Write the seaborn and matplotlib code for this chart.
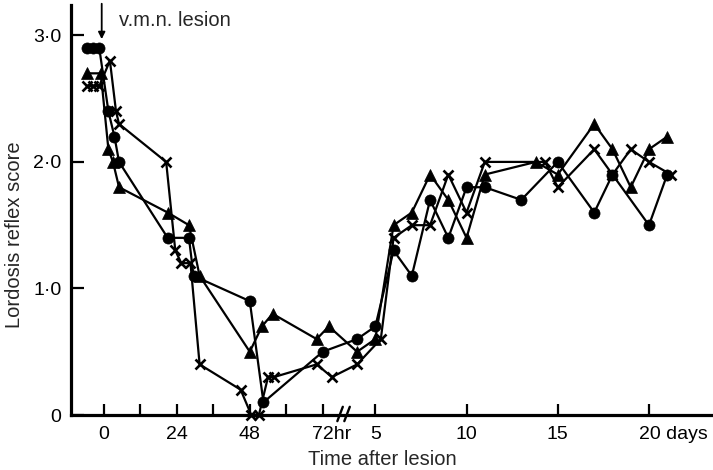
import numpy as np
import pandas as pd
import matplotlib
matplotlib.use("Agg")
import matplotlib.pyplot as plt
import matplotlib.transforms as mtrans
import seaborn as sns

# ---------------- data ----------------
# time in hours (first segment) and in days (second segment)
circle_hours_t = [-5.5, -3.5, -1.5, 1.5, 3.5, 5, 21, 28, 29.5, 48, 52.5, 72]
circle_hours_v = [2.9, 2.9, 2.9, 2.4, 2.2, 2.0, 1.4, 1.4, 1.1, 0.9, 0.1, 0.5]
circle_days_t = [4, 5, 6, 7, 8, 9, 10, 11, 13, 15, 17, 18, 20, 21]
circle_days_v = [0.6, 0.7, 1.3, 1.1, 1.7, 1.4, 1.8, 1.8, 1.7, 2.0, 1.6, 1.9, 1.5, 1.9]

triangle_hours_t = [-5.5, -1, 1.5, 3, 5, 21, 28, 31.5, 48, 52, 55.5, 70, 74]
triangle_hours_v = [2.7, 2.7, 2.1, 2.0, 1.8, 1.6, 1.5, 1.1, 0.5, 0.7, 0.8, 0.6, 0.7]
triangle_days_t = [4, 5, 6, 7, 8, 9, 10, 11, 13.8, 15, 17, 18, 19, 20, 21]
triangle_days_v = [0.5, 0.6, 1.5, 1.6, 1.9, 1.7, 1.4, 1.9, 2.0, 1.9, 2.3, 2.1, 1.8, 2.1, 2.2]

cross_hours_t = [-5.5, -3.5, -1.5, 2, 4, 5, 20.5, 23.5, 25.5, 28.5, 31.5, 45, 48.5, 51, 54, 56, 70, 75]
cross_hours_v = [2.6, 2.6, 2.6, 2.8, 2.4, 2.3, 2.0, 1.3, 1.2, 1.2, 0.4, 0.2, 0.0, 0.0, 0.3, 0.3, 0.4, 0.3]
cross_days_t = [4, 5.3, 6, 7, 8, 9, 10, 11, 14.3, 15, 17, 18, 19, 20, 21.2]
cross_days_v = [0.4, 0.6, 1.4, 1.5, 1.5, 1.9, 1.6, 2.0, 2.0, 1.8, 2.1, 1.9, 2.1, 2.0, 1.9]

hour_ticks = [0, 24, 48, 72]
hour_tick_labels = ["0", "24", "48", "72hr"]
hour_minor_ticks = [12, 36, 60]
day_ticks = [5, 10, 15, 20]
day_tick_labels = ["5", "10", "15", "20 days"]
y_ticks = [0, 1, 2, 3]
y_tick_labels = ["0", "1·0", "2·0", "3·0"]

# broken time axis: hours use 1 unit per hour, days 6 units per day after the break
DAY_OFFSET = 59.3
DAY_SCALE = 6.0
BREAK_POS = 79.0


def hours_pos(h):
    return list(np.asarray(h, dtype=float))


def days_pos(d):
    return list(DAY_OFFSET + DAY_SCALE * np.asarray(d, dtype=float))


def series_frame(name, ht, hv, dt, dv):
    return pd.DataFrame({
        "pos": hours_pos(ht) + days_pos(dt),
        "score": list(hv) + list(dv),
        "series": name,
    })


df = pd.concat([
    series_frame("circle", circle_hours_t, circle_hours_v, circle_days_t, circle_days_v),
    series_frame("triangle", triangle_hours_t, triangle_hours_v, triangle_days_t, triangle_days_v),
    series_frame("cross", cross_hours_t, cross_hours_v, cross_days_t, cross_days_v),
], ignore_index=True)

# ---------------- figure ----------------
sns.set_theme(style="ticks")
plt.rcParams["font.family"] = ["Liberation Sans", "DejaVu Sans"]

fig = plt.figure(figsize=(7.13, 4.70), dpi=100)
ax = fig.add_axes([71 / 713, 55 / 470, 640 / 713, 410 / 470])

styles = {
    "circle": dict(marker="o", markersize=8, markeredgewidth=0.5),
    "triangle": dict(marker="^", markersize=9, markeredgewidth=0.5),
    "cross": dict(marker="x", markersize=7, markeredgewidth=1.9),
}
for name, kw in styles.items():
    sub = df[df["series"] == name]
    sns.lineplot(data=sub, x="pos", y="score", ax=ax, sort=False, estimator=None,
                 color="black", linewidth=1.6, markeredgecolor="black",
                 markerfacecolor="black", clip_on=False, zorder=3, **kw)

ax.set_xlim(-10.8, 199.7)
ax.set_ylim(0, 3.24)

# ticks
major_pos = hour_ticks + days_pos(day_ticks)
ax.set_xticks(major_pos)
ax.set_xticklabels(hour_tick_labels + day_tick_labels)
ax.set_xticks(hour_minor_ticks, minor=True)
ax.set_yticks(y_ticks)
ax.set_yticklabels(y_tick_labels)

ax.tick_params(axis="x", which="both", direction="in", length=8, width=1.6,
               pad=8, labelsize=14, colors="black")
ax.tick_params(axis="y", which="both", direction="in", length=9, width=1.6,
               pad=7, labelsize=14, colors="black")

# keep the numbers centred on the tick for labels with a unit suffix
for lab in ax.get_xticklabels():
    txt = lab.get_text()
    if txt in ("72hr", "20 days"):
        lab.set_horizontalalignment("left")
        shift = -7.5
        lab.set_transform(lab.get_transform() +
                          mtrans.ScaledTranslation(shift / 72, 0, fig.dpi_scale_trans))

for side in ("top", "right"):
    ax.spines[side].set_visible(False)
for side in ("left", "bottom"):
    ax.spines[side].set_linewidth(2.3)
    ax.spines[side].set_color("black")

ax.set_xlabel("Time after lesion", fontsize=14.5)
ax.set_ylabel("Lordosis reflex score", fontsize=14.5)
ax.xaxis.set_label_coords(0.487, -0.085)
ax.yaxis.set_label_coords(-0.073, 0.44)

# break marks on the time axis
trans = mtrans.blended_transform_factory(ax.transData, ax.transAxes)
for dx in (-1.3, 1.0):
    ax.plot([BREAK_POS + dx - 0.9, BREAK_POS + dx + 0.9], [-0.015, 0.02],
            transform=trans, color="black", lw=1.7, clip_on=False, zorder=5)

# lesion annotation
ax.annotate("", xy=(-0.7, 2.97), xytext=(-0.7, 3.25),
            arrowprops=dict(arrowstyle="-|>", color="black", lw=1.3,
                            mutation_scale=10, shrinkA=0, shrinkB=0),
            annotation_clip=False)
ax.text(4.9, 3.12, "v.m.n. lesion", fontsize=14.5, ha="left", va="center")

ax.grid(False)
fig.savefig("out.png", dpi=100)
